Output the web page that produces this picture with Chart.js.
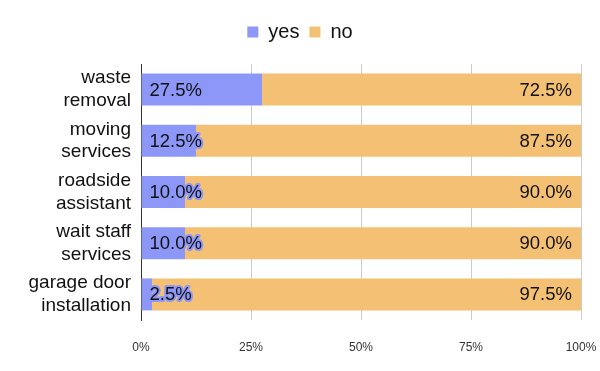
<!DOCTYPE html>
<html>
<head>
<meta charset="utf-8">
<script src="https://cdn.jsdelivr.net/npm/chart.js@4/dist/chart.umd.min.js"></script>
<style>
  html, body { margin: 0; padding: 0; background: #fff; }
  #wrap { width: 600px; height: 371px; }
</style>
</head>
<body>
<div id="wrap"><canvas id="chart" width="600" height="371"></canvas></div>
<script>
const categories = [
  ['waste', 'removal'],
  ['moving', 'services'],
  ['roadside', 'assistant'],
  ['wait staff', 'services'],
  ['garage door', 'installation'],
];
const yesValues = [27.5, 12.5, 10.0, 10.0, 2.5];
const noValues = [72.5, 87.5, 90.0, 90.0, 97.5];
const xTicks = [0, 25, 50, 75, 100];

const YES_COLOR = '#8c97f7';
const NO_COLOR = '#f4c073';
const FONT = '"Liberation Sans", Arial, sans-serif';

// draws the percentage labels inside the bars (yes at the start, no at the end)
const barLabels = {
  id: 'barLabels',
  afterDatasetsDraw(chart) {
    const ctx = chart.ctx;
    ctx.save();
    ctx.font = '18.5px ' + FONT;
    ctx.textBaseline = 'middle';
    ctx.lineJoin = 'round';
    chart.data.datasets.forEach((ds, di) => {
      const meta = chart.getDatasetMeta(di);
      meta.data.forEach((bar, i) => {
        const txt = ds.data[i].toFixed(1) + '%';
        const left = Math.min(bar.base, bar.x);
        const right = Math.max(bar.base, bar.x);
        let x;
        if (di === 0) { ctx.textAlign = 'left'; x = left + 8; }
        else { ctx.textAlign = 'right'; x = right - 9; }
        ctx.lineWidth = 4;
        ctx.strokeStyle = ds.backgroundColor;
        ctx.strokeText(txt, x, bar.y + 1);
        ctx.fillStyle = '#111';
        ctx.fillText(txt, x, bar.y + 1);
      });
    });
    ctx.restore();
  }
};

// extra space between the legend and the plot
const legendGap = {
  id: 'legendGap',
  beforeInit(chart) {
    const fit = chart.legend.fit;
    chart.legend.fit = function () {
      fit.call(this);
      this.height += 12;
    };
  }
};

new Chart(document.getElementById('chart'), {
  type: 'bar',
  data: {
    labels: categories,
    datasets: [
      { label: 'yes', data: yesValues, backgroundColor: YES_COLOR, barPercentage: 1, categoryPercentage: 0.625 },
      { label: 'no', data: noValues, backgroundColor: NO_COLOR, barPercentage: 1, categoryPercentage: 0.625 },
    ]
  },
  options: {
    indexAxis: 'y',
    responsive: false,
    animation: false,
    layout: { padding: { left: 19, right: 19, top: 12, bottom: 0 } },
    scales: {
      x: {
        stacked: true,
        min: 0,
        max: 100,
        afterBuildTicks: axis => { axis.ticks = xTicks.map(v => ({ value: v })); },
        afterFit: s => { s.height = 51; s.paddingLeft = 0; s.paddingRight = 0; },
        ticks: { color: '#333', font: { size: 12, family: FONT }, callback: v => v + '%', padding: 20 },
        grid: { color: '#cccccc', drawTicks: false },
        border: { display: false },
      },
      y: {
        stacked: true,
        afterFit: s => { s.width = 122; s.paddingTop = 0; s.paddingBottom = 0; },
        ticks: { color: '#111', font: { size: 19, family: FONT, lineHeight: 1.2 }, padding: 10, autoSkip: false },
        grid: { display: false, drawTicks: false },
        border: { display: true, color: '#333', width: 1 },
      },
    },
    plugins: {
      legend: {
        position: 'top',
        labels: {
          color: '#111',
          font: { size: 20, family: FONT },
          boxWidth: 11,
          boxHeight: 11,
          padding: 10,
        }
      },
      tooltip: { enabled: false },
    }
  },
  plugins: [barLabels, legendGap]
});
</script>
</body>
</html>
